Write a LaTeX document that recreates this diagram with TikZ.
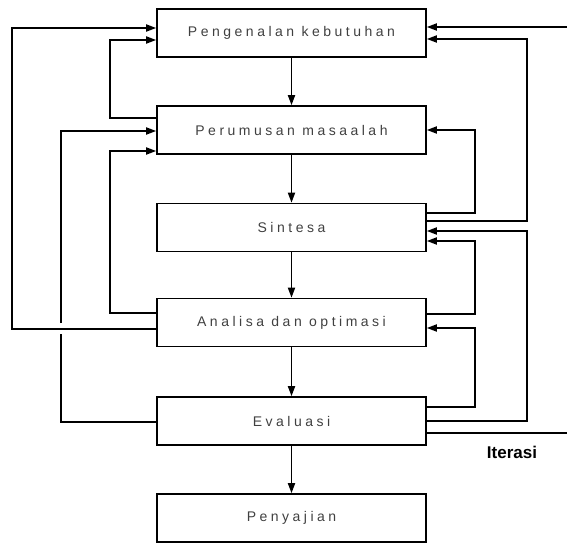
\documentclass[tikz,border=0pt]{standalone}
\usepackage{fontspec}
\setmainfont{Liberation Sans}
\newfontfamily\boxfont[LetterSpace=25]{Liberation Sans}
\usetikzlibrary{arrows.meta}

\begin{document}
\begin{tikzpicture}[x=1pt,y=-1pt,
  box/.style={draw, line width=1.6pt, minimum width=269pt, minimum height=48pt,
    inner sep=0pt, font=\boxfont\fontsize{14}{16}\selectfont, text=black!75},
  link/.style={line width=1.7pt, -{Triangle[length=10pt,width=7pt]}},
  plain/.style={line width=1.7pt}]
\useasboundingbox (0,0) rectangle (567,543);

% design stages
\node[box] (b1) at (291.5,33)    {Pengenalan kebutuhan};
\node[box] (b2) at (291.5,130)   {Perumusan masaalah};
\node[box] (b3) at (291.5,227.5) {Sintesa};
\node[box] (b4) at (291.5,322.5) {Analisa dan optimasi};
\node[box] (b5) at (291.5,421)   {Evaluasi};
\node[box] (b6) at (291.5,518)   {Penyajian};

% main flow
\draw[link] (b1) -- (b2);
\draw[link] (b2) -- (b3);
\draw[link] (b3) -- (b4);
\draw[link] (b4) -- (b5);
\draw[link] (b5) -- (b6);

% feedback loops, left side (the Evaluasi loop is broken where it crosses)
\draw[plain] (b5.west |- 0,422) -| (61,334);
\draw[link] (61,323) |- (b2.west |- 0,131);
\draw[link] (b4.west |- 0,329) -| (12,28) -- (b1.west |- 0,28);
\draw[link] (b2.west |- 0,118) -| (110,40) -- (b1.west |- 0,40);
\draw[link] (b4.west |- 0,313) -| (110,151) -- (b2.west |- 0,151);

% feedback loops, right side
\coordinate (inTop) at (567,27);
\coordinate (outIter) at (567,433);
\draw[link] (inTop) -- (b1.east |- inTop);
\draw[plain] (b5.east |- outIter) -- (outIter);
\draw[link] (b3.east |- 0,221) -| (527,39) -- (b1.east |- 0,39);
\draw[link] (b3.east |- 0,213) -| (475,130) -- (b2.east |- 0,130);
\draw[link] (b5.east |- 0,421) -| (527,231) -- (b3.east |- 0,231);
\draw[link] (b4.east |- 0,314) -| (475,241) -- (b3.east |- 0,241);
\draw[link] (b5.east |- 0,407) -| (475,328) -- (b4.east |- 0,328);

\node[font=\bfseries\fontsize{17}{19}\selectfont] (iter) at (512,452) {Iterasi};
\end{tikzpicture}
\end{document}
